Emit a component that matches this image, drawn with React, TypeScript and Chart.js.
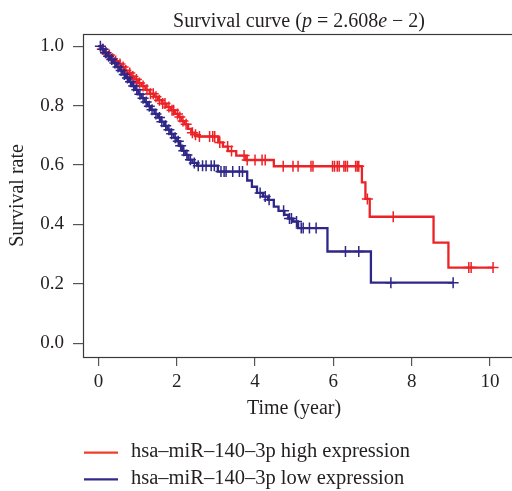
import React, { useEffect, useRef } from "react";
import { Chart, registerables } from "chart.js";

Chart.register(...registerables);

const FONT = '"Liberation Serif", "Times New Roman", serif';
const TEXT_COLOR = "#231f20";
const HIGH_COLOR = "#ec2227";
const LOW_COLOR = "#2e2787";
const HIGH_LEGEND_COLOR = "#ef3f2a";
const LOW_LEGEND_COLOR = "#33298a";

const xTickValues = [0, 2, 4, 6, 8, 10];
const yTickValues = [0, 0.2, 0.4, 0.6, 0.8, 1.0];

const seriesLabels = [
  "hsa–miR–140–3p high expression",
  "hsa–miR–140–3p low expression",
];

// High expression: step times and survival after each step
const highTimes = [
  0, 0.07, 0.16, 0.25, 0.33, 0.41, 0.5, 0.58, 0.66, 0.74,
  0.83, 0.92, 1.01, 1.1, 1.2, 1.31, 1.42, 1.52, 1.63, 1.74,
  1.85, 1.96, 2.04, 2.12, 2.2, 2.29, 2.37, 2.47, 2.56, 3.06,
  3.18, 3.31, 3.52, 3.76, 4.48, 6.73, 6.82, 6.93, 8.56, 8.94,
  10.08,
];
const highSurv = [
  1.0, 0.99, 0.978, 0.97, 0.958, 0.95, 0.94, 0.93, 0.918, 0.91,
  0.898, 0.888, 0.876, 0.866, 0.853, 0.84, 0.83, 0.818, 0.807, 0.795,
  0.784, 0.772, 0.762, 0.748, 0.737, 0.722, 0.709, 0.702, 0.696, 0.676,
  0.662, 0.647, 0.632, 0.617, 0.596, 0.542, 0.486, 0.426, 0.339, 0.255,
  0.255,
];
const highCensor = [
  0.1, 0.2, 0.28, 0.36, 0.44, 0.55, 0.63, 0.7, 0.8, 0.88,
  0.97, 1.05, 1.14, 1.24, 1.33, 1.4, 1.47, 1.56, 1.64, 1.7,
  1.8, 1.88, 1.92, 2.02, 2.08, 2.16, 2.24, 2.4, 2.48, 2.58,
  2.84, 2.92, 2.97, 3.1, 3.3, 3.4, 3.72, 3.8, 4.0, 4.18,
  4.26, 4.72, 4.97, 5.1, 5.43, 5.48, 5.98, 6.03, 6.1, 6.15,
  6.27, 6.31, 6.36, 6.57, 6.61, 6.65, 6.87, 7.53, 9.46, 9.52,
  10.08,
];

// Low expression
const lowTimes = [
  0, 0.06, 0.14, 0.22, 0.3, 0.38, 0.46, 0.54, 0.62, 0.7,
  0.78, 0.86, 0.94, 1.02, 1.1, 1.18, 1.26, 1.34, 1.43, 1.52,
  1.6, 1.68, 1.76, 1.84, 1.92, 2.0, 2.07, 2.14, 2.22, 2.3,
  2.4, 2.52, 3.05, 3.8, 3.92, 4.05, 4.2, 4.33, 4.48, 4.6,
  4.75, 4.85, 4.97, 5.1, 5.85, 6.96, 9.06,
];
const lowSurv = [
  1.0, 0.99, 0.978, 0.966, 0.955, 0.943, 0.93, 0.918, 0.905, 0.893,
  0.88, 0.866, 0.853, 0.838, 0.825, 0.812, 0.798, 0.786, 0.772, 0.76,
  0.746, 0.732, 0.719, 0.705, 0.692, 0.68, 0.665, 0.648, 0.634, 0.618,
  0.607, 0.598, 0.578, 0.548, 0.527, 0.506, 0.494, 0.483, 0.46, 0.446,
  0.432, 0.42, 0.41, 0.388, 0.309, 0.204, 0.204,
];
const lowCensor = [
  0.05, 0.12, 0.18, 0.26, 0.34, 0.42, 0.5, 0.58, 0.66, 0.74,
  0.82, 0.9, 0.98, 1.06, 1.14, 1.22, 1.3, 1.37, 1.47, 1.56,
  1.62, 1.72, 1.8, 1.87, 1.96, 2.04, 2.1, 2.18, 2.26, 2.35,
  2.45, 2.55, 2.66, 2.75, 2.88, 2.96, 3.13, 3.21, 3.26, 3.43,
  3.6, 3.68, 4.13, 4.26, 4.36, 4.73, 4.88, 4.93, 5.06, 5.18,
  5.23, 5.39, 5.56, 6.31, 6.65, 7.47, 9.06,
];

const titleParts: [string, boolean][] = [
  ["Survival curve (", false],
  ["p", true],
  [" = 2.608", false],
  ["e", true],
  [" − 2)", false],
];

function stepPoints(times: number[], surv: number[]) {
  return times.map((t, i) => ({ x: t, y: surv[i] }));
}

function survAt(times: number[], surv: number[], t: number) {
  let v = surv[0];
  for (let i = 0; i < times.length; i++) {
    if (times[i] <= t) v = surv[i];
  }
  return v;
}

function censorPoints(times: number[], surv: number[], cens: number[]) {
  return cens.map((c) => ({ x: c, y: survAt(times, surv, c) }));
}

const boxPlugin = {
  id: "boxPlugin",
  beforeDatasetsDraw(chart: any) {
    const { ctx, chartArea } = chart;
    ctx.save();
    ctx.strokeStyle = "#3a3a3a";
    ctx.lineWidth = 1.2;
    ctx.strokeRect(
      chartArea.left + 0.5,
      chartArea.top + 0.5,
      chartArea.right - chartArea.left + 20,
      chartArea.bottom - chartArea.top
    );
    ctx.restore();
  },
};

const titlePlugin = {
  id: "titlePlugin",
  afterDraw(chart: any) {
    const { ctx } = chart;
    ctx.save();
    ctx.fillStyle = TEXT_COLOR;
    ctx.textBaseline = "alphabetic";
    ctx.textAlign = "left";
    const size = 20;
    let total = 0;
    const widths = titleParts.map(([s, it]) => {
      ctx.font = `${it ? "italic " : ""}${size}px ${FONT}`;
      const w = ctx.measureText(s).width;
      total += w;
      return w;
    });
    let x = 299 - total / 2;
    titleParts.forEach(([s, it], i) => {
      ctx.font = `${it ? "italic " : ""}${size}px ${FONT}`;
      ctx.fillText(s, x, 26.5);
      x += widths[i];
    });
    ctx.restore();
  },
};

const legendPlugin = {
  id: "legendPlugin",
  afterDraw(chart: any) {
    const { ctx } = chart;
    const colors = [HIGH_LEGEND_COLOR, LOW_LEGEND_COLOR];
    const ys = [452.7, 479.3];
    ctx.save();
    ctx.font = `20.5px ${FONT}`;
    ctx.textBaseline = "middle";
    ctx.textAlign = "left";
    seriesLabels.forEach((lab, i) => {
      ctx.strokeStyle = colors[i];
      ctx.lineWidth = 2.2;
      ctx.beginPath();
      ctx.moveTo(84, ys[i]);
      ctx.lineTo(118, ys[i]);
      ctx.stroke();
      ctx.fillStyle = TEXT_COLOR;
      ctx.fillText(lab, 131, ys[i] - 1);
    });
    ctx.restore();
  },
};

export default function App() {
  const ref = useRef<HTMLCanvasElement>(null);

  useEffect(() => {
    const canvas = ref.current;
    if (!canvas) return;
    const tickFont = { family: FONT, size: 19 };
    const titleFont = { family: FONT, size: 20 };
    const chart = new Chart(canvas, {
      type: "line",
      data: {
        datasets: [
          {
            label: seriesLabels[1],
            data: stepPoints(lowTimes, lowSurv),
            borderColor: LOW_COLOR,
            borderWidth: 2.3,
            stepped: "before",
            pointRadius: 0,
            fill: false,
            order: 0,
          },
          {
            label: seriesLabels[1] + " censored",
            data: censorPoints(lowTimes, lowSurv, lowCensor),
            borderColor: LOW_COLOR,
            showLine: false,
            pointStyle: "cross",
            pointRadius: 5.5,
            pointBorderWidth: 1.5,
            pointBorderColor: LOW_COLOR,
            order: 0,
          },
          {
            label: seriesLabels[0],
            data: stepPoints(highTimes, highSurv),
            borderColor: HIGH_COLOR,
            borderWidth: 2.3,
            stepped: "before",
            pointRadius: 0,
            fill: false,
            order: 1,
          },
          {
            label: seriesLabels[0] + " censored",
            data: censorPoints(highTimes, highSurv, highCensor),
            borderColor: HIGH_COLOR,
            showLine: false,
            pointStyle: "cross",
            pointRadius: 5.5,
            pointBorderWidth: 1.5,
            pointBorderColor: HIGH_COLOR,
            order: 1,
          },
        ],
      },
      options: {
        responsive: false,
        animation: false,
        devicePixelRatio: 1,
        layout: { padding: { top: 34, left: 0, right: 0, bottom: 0 } },
        plugins: {
          legend: { display: false },
          title: { display: false },
          tooltip: { enabled: false },
        },
        scales: {
          x: {
            type: "linear",
            min: -0.394,
            max: 10.385,
            afterBuildTicks: (s: any) => {
              s.ticks = xTickValues.map((v) => ({ value: v }));
            },
            afterFit: (s: any) => {
              s.height = 134;
            },
            ticks: {
              callback: (v: any) => String(v),
              font: tickFont,
              color: TEXT_COLOR,
              padding: 5,
              maxRotation: 0,
              autoSkip: false,
            },
            grid: {
              display: true,
              drawOnChartArea: false,
              drawTicks: true,
              tickLength: 9,
              color: "#555",
              lineWidth: 1.2,
            },
            border: { display: false },
            title: {
              display: true,
              text: "Time (year)",
              font: titleFont,
              color: TEXT_COLOR,
              padding: { top: 0, bottom: 70 },
            },
          },
          y: {
            type: "linear",
            min: -0.046,
            max: 1.041,
            afterBuildTicks: (s: any) => {
              s.ticks = yTickValues.map((v) => ({ value: v }));
            },
            afterFit: (s: any) => {
              s.width = 83;
            },
            ticks: {
              callback: (v: any) => Number(v).toFixed(1),
              font: tickFont,
              color: TEXT_COLOR,
              padding: 9,
              autoSkip: false,
            },
            grid: {
              display: true,
              drawOnChartArea: false,
              drawTicks: true,
              tickLength: 10,
              color: "#555",
              lineWidth: 1.2,
            },
            border: { display: false },
            title: {
              display: true,
              text: "Survival rate",
              font: titleFont,
              color: TEXT_COLOR,
              padding: { top: 6, bottom: 0 },
            },
          },
        },
      },
      plugins: [boxPlugin, titlePlugin, legendPlugin],
    } as any);
    return () => chart.destroy();
  }, []);

  return (
    <canvas
      ref={ref}
      width={512}
      height={491}
      style={{ position: "absolute", left: 0, top: 0, display: "block" }}
    />
  );
}
